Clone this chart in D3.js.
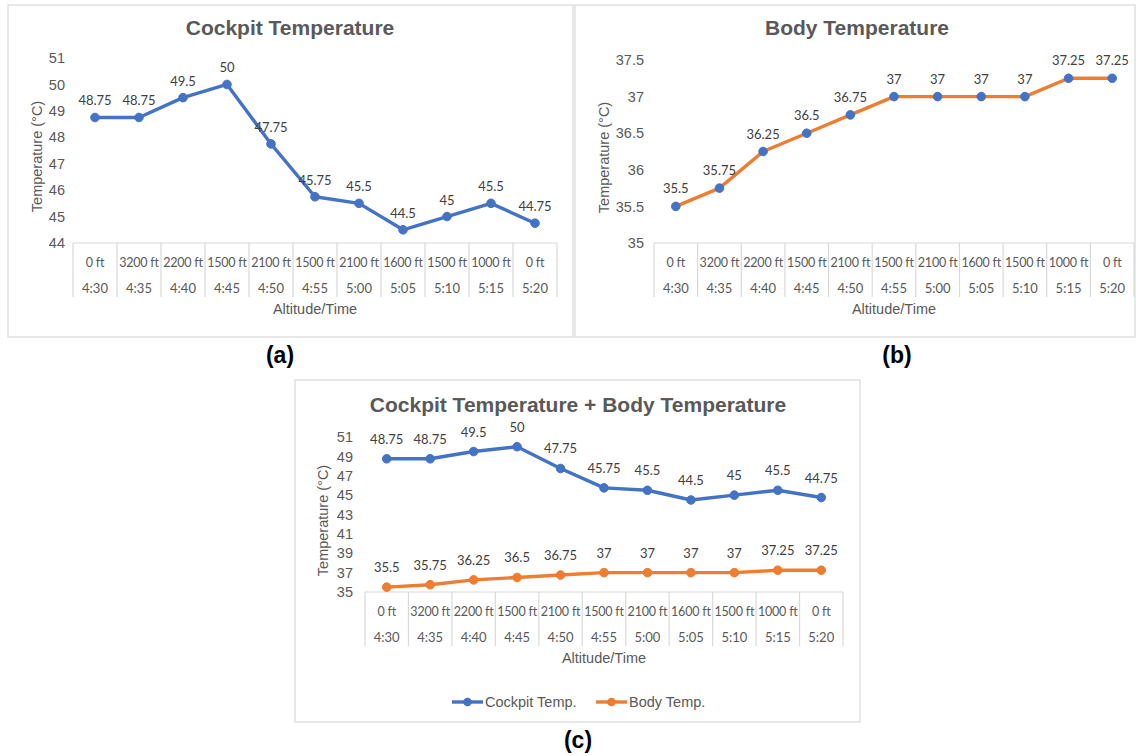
<!DOCTYPE html>
<html>
<head>
<meta charset="utf-8">
<script src="https://cdn.jsdelivr.net/npm/d3@7"></script>
<style>
  body { margin: 0; background: #fff; }
  svg { display: block; font-family: "Liberation Sans", Arial, sans-serif; }
</style>
</head>
<body>
<svg id="chart" width="1136" height="756"></svg>
<script>
// data
const altitudes = ["0 ft", "3200 ft", "2200 ft", "1500 ft", "2100 ft", "1500 ft", "2100 ft", "1600 ft", "1500 ft", "1000 ft", "0 ft"]
const times = ["4:30", "4:35", "4:40", "4:45", "4:50", "4:55", "5:00", "5:05", "5:10", "5:15", "5:20"]
const cockpitTemp = [48.75, 48.75, 49.5, 50, 47.75, 45.75, 45.5, 44.5, 45, 45.5, 44.75]
const bodyTemp = [35.5, 35.75, 36.25, 36.5, 36.75, 37, 37, 37, 37, 37.25, 37.25]
const cockpitTicks = [44, 45, 46, 47, 48, 49, 50, 51]
const bodyTicks = [35, 35.5, 36, 36.5, 37, 37.5]
const combinedTicks = [35, 37, 39, 41, 43, 45, 47, 49, 51]

const BLUE = "#4472c4", ORANGE = "#ed7d31", GREY = "#595959", LINE = "#d9d9d9"

const svg = d3.select("#chart")

function drawPanel(p) {
  const g = svg.append("g")

  //outer frame
  g.append("rect")
    .attr("x", p.frame[0]).attr("y", p.frame[1])
    .attr("width", p.frame[2]).attr("height", p.frame[3])
    .attr("fill", "#fff").attr("stroke", LINE).attr("stroke-width", 1.2)

  g.append("text")
    .attr("x", p.titleX).attr("y", p.titleY)
    .attr("text-anchor", "middle")
    .attr("font-size", 21).attr("font-weight", "bold").attr("fill", GREY)
    .text(p.title)

  let x = d3.scaleBand().domain(d3.range(times.length)).range([p.left, p.right])
  let y = d3.scaleLinear().domain(p.domain).range([p.bottom, p.top])

  //y axis, labels only
  let yAxis = g.append("g")
    .attr("transform", `translate(${p.left - p.tickGap},0)`)
    .call(d3.axisLeft(y).tickValues(p.ticks).tickSize(0).tickPadding(0).tickFormat(d3.format("")))
  yAxis.select(".domain").remove()
  yAxis.selectAll("text").attr("font-size", 14.5).attr("fill", GREY)
    .attr("font-family", "'Liberation Sans', Arial, sans-serif")

  g.append("text")
    .attr("transform", `translate(${p.yTitleX},${(p.top + p.bottom) / 2 + 6}) rotate(-90)`)
    .attr("text-anchor", "middle").attr("font-size", 14.5).attr("fill", GREY)
    .text("Temperature (°C)")

  //category table under the plot
  let tableBottom = p.bottom + 54
  g.append("line")
    .attr("x1", p.left).attr("x2", p.right).attr("y1", p.bottom).attr("y2", p.bottom)
    .attr("stroke", LINE).attr("stroke-width", 1.2)
  g.selectAll(".sep")
    .data(d3.range(times.length + 1))
    .join("line")
    .attr("x1", i => p.left + i * x.step()).attr("x2", i => p.left + i * x.step())
    .attr("y1", p.bottom).attr("y2", tableBottom)
    .attr("stroke", LINE).attr("stroke-width", 1.2)

  let cx = i => x(i) + x.bandwidth() / 2
  g.selectAll(".alt")
    .data(altitudes)
    .join("text")
    .attr("x", (d, i) => cx(i)).attr("y", p.bottom + 24)
    .attr("text-anchor", "middle").attr("font-size", 12.5).attr("fill", GREY)
    .attr("font-family", "Lato, sans-serif").attr("letter-spacing", -0.2)
    .text(d => d)
  g.selectAll(".time")
    .data(times)
    .join("text")
    .attr("x", (d, i) => cx(i)).attr("y", p.bottom + 50)
    .attr("text-anchor", "middle").attr("font-size", 13).attr("fill", GREY)
    .attr("font-family", "Lato, sans-serif")
    .text(d => d)

  g.append("text")
    .attr("x", (p.left + p.right) / 2).attr("y", tableBottom + 17)
    .attr("text-anchor", "middle").attr("font-size", 14.5).attr("fill", GREY)
    .text("Altitude/Time")

  //series
  p.series.forEach(s => {
    let line = d3.line().x((d, i) => cx(i)).y(d => y(d))
    g.append("path")
      .datum(s.values)
      .attr("fill", "none").attr("stroke", s.color).attr("stroke-width", 3.4)
      .attr("stroke-linejoin", "round")
      .attr("d", line)
    g.selectAll(null)
      .data(s.values)
      .join("circle")
      .attr("cx", (d, i) => cx(i)).attr("cy", d => y(d)).attr("r", 4.3)
      .attr("fill", s.marker).attr("stroke", s.marker)
    g.selectAll(null)
      .data(s.values)
      .join("text")
      .attr("x", (d, i) => cx(i)).attr("y", d => y(d) - p.labelGap)
      .attr("text-anchor", "middle").attr("font-size", 13).attr("fill", "#404040")
      .attr("font-family", "Lato, sans-serif")
      .text(d => d)
  })

  if (p.legend) {
    p.series.forEach((s, k) => {
      let lx = p.legend[k]
      let ly = p.legendY
      g.append("line").attr("x1", lx).attr("x2", lx + 31).attr("y1", ly).attr("y2", ly)
        .attr("stroke", s.color).attr("stroke-width", 3.4)
      g.append("circle").attr("cx", lx + 15.5).attr("cy", ly).attr("r", 4.3).attr("fill", s.color)
      g.append("text").attr("x", lx + 33).attr("y", ly + 5)
        .attr("font-size", 14.5).attr("fill", GREY).text(s.name)
    })
  }
}

drawPanel({
  frame: [8, 5, 565, 332], title: "Cockpit Temperature", titleX: 290, titleY: 35,
  left: 73, right: 557, top: 58, bottom: 243, domain: [44, 51], ticks: cockpitTicks,
  tickGap: 8, yTitleX: 42, labelGap: 12,
  series: [{name: "Cockpit Temp.", values: cockpitTemp, color: BLUE, marker: BLUE}]
})

drawPanel({
  frame: [575, 5, 560, 332], title: "Body Temperature", titleX: 857, titleY: 35,
  left: 654, right: 1134, top: 60, bottom: 243, domain: [35, 37.5], ticks: bodyTicks,
  tickGap: 10, yTitleX: 609, labelGap: 13,
  series: [{name: "Body Temp.", values: bodyTemp, color: ORANGE, marker: BLUE}]
})

drawPanel({
  frame: [295, 380, 565, 342], title: "Cockpit Temperature + Body Temperature", titleX: 578, titleY: 412,
  left: 365, right: 843, top: 437, bottom: 592, domain: [35, 51], ticks: combinedTicks,
  tickGap: 12, yTitleX: 328, labelGap: 15,
  legend: [452, 596], legendY: 702,
  series: [
    {name: "Cockpit Temp.", values: cockpitTemp, color: BLUE, marker: BLUE},
    {name: "Body Temp.", values: bodyTemp, color: ORANGE, marker: ORANGE}
  ]
})

//panel letters
const letters = [["(a)", 280, 363], ["(b)", 897, 363], ["(c)", 578, 748]]
svg.selectAll(".letter")
  .data(letters)
  .join("text")
  .attr("x", d => d[1]).attr("y", d => d[2])
  .attr("text-anchor", "middle").attr("font-size", 23).attr("font-weight", "bold").attr("fill", "#000")
  .text(d => d[0])
</script>
</body>
</html>
